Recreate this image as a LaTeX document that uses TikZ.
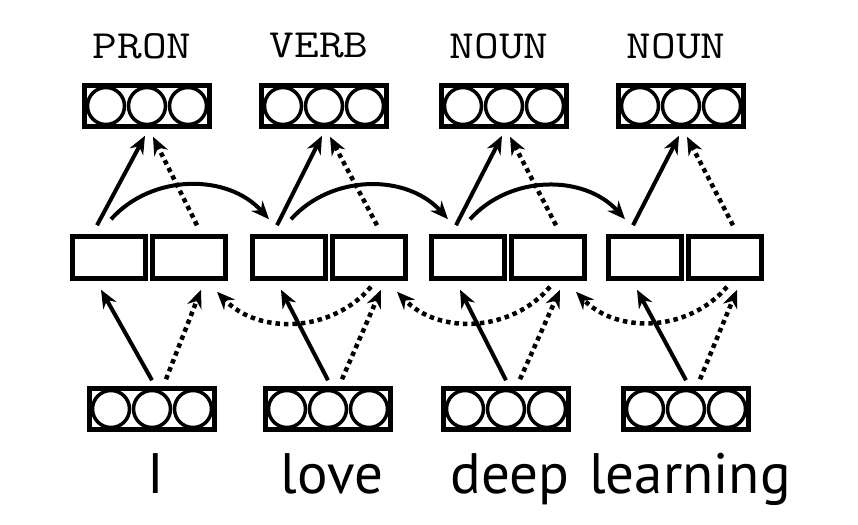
\documentclass[tikz,border=0pt]{standalone}
\usepackage{fontspec}
\setmainfont{PT Sans}
\usetikzlibrary{positioning, arrows.meta}
\tikzset{>={Stealth[length=18pt,width=15pt]},
vec/.style={draw, line width=4.5pt, minimum width=125pt, minimum height=41pt, inner sep=0pt},
cell/.style={draw, line width=4.5pt, minimum width=73pt, minimum height=42pt, inner sep=0pt},
unit/.style={line width=3.5pt},
link/.style={->, line width=4pt},
dotlink/.style={->, line width=4.5pt, dash pattern=on 4.5pt off 4pt},
tag/.style={font=\ttfamily\fontsize{40}{40}\selectfont},
word/.style={font=\fontsize{57}{57}\selectfont, anchor=base},
}

\begin{document}
\begin{tikzpicture}[x=1pt, y=-1pt]
\useasboundingbox (0,0) rectangle (858,524);
% columns: tag / word, x of output, hidden and input vectors
\foreach \i/\xt/\xm/\xb/\pos/\tok in {1/147/149/152/PRON/I, 2/324/329/328/VERB/love,
    3/504/508/506/NOUN/deep, 4/681/685/686/NOUN/learning} {
  \node[vec] (out\i) at (\xt,106) {};
  \node[cell] (fw\i) at (\xm-40,257.5) {};
  \node[cell] (bw\i) at (\xm+40,257.5) {};
  \node[vec] (in\i) at (\xb,409) {};
  \node[tag] (tag\i) at (\xt-5,46) {\scalebox{1.2}[1]{\pos}};
  \node[word] (word\i) at (\xb+4,493) {\tok};
  \foreach \d in {-41,0,41} {
    \draw[unit] (out\i) ++(\d,0) circle (18.5);
    \draw[unit] (in\i) ++(\d,0) circle (18.5);
  }
  % up from the hidden states
  \draw[link] ([xshift=-12pt,yshift=9pt]fw\i.north) -- ([xshift=-2pt,yshift=-7pt]out\i.south);
  \draw[dotlink] ([xshift=8pt,yshift=9pt]bw\i.north) -- ([xshift=6pt,yshift=-8pt]out\i.south);
  % up from the inputs
  \draw[link] ([yshift=6pt]in\i.north) -- ([xshift=-8pt,yshift=-9pt]fw\i.south);
  \draw[dotlink] ([xshift=14pt,yshift=7pt]in\i.north) -- ([xshift=12pt,yshift=-9pt]bw\i.south);
}
% recurrent links
\foreach \i/\j in {1/2, 2/3, 3/4} {
  \draw[link] ([xshift=2pt,yshift=15pt]fw\i.north) to[bend left=48] ([xshift=-20pt,yshift=15pt]fw\j.north);
  \draw[dotlink] ([xshift=2pt,yshift=-6pt]bw\j.south) to[bend left=48] ([xshift=28pt,yshift=-11pt]bw\i.south);
}
\end{tikzpicture}
\end{document}
